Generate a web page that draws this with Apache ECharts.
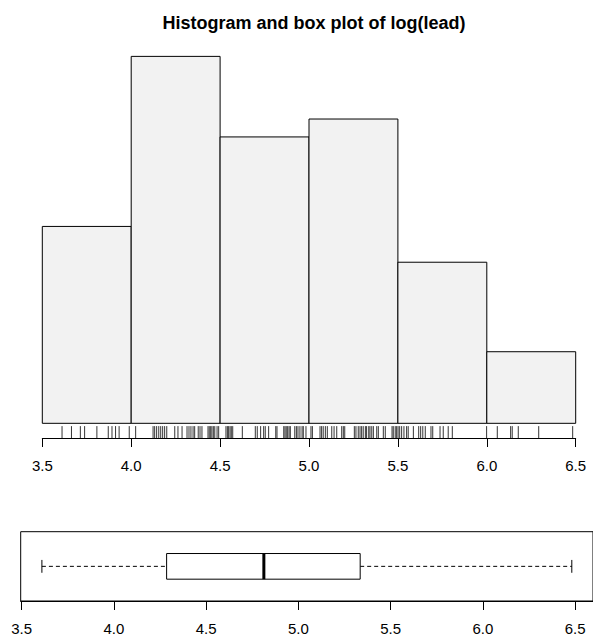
<!DOCTYPE html>
<html>
<head>
<meta charset="utf-8">
<script src="https://cdn.jsdelivr.net/npm/echarts@6/dist/echarts.min.js"></script>
<style>
html,body{margin:0;padding:0;background:#fff;}
#chart{width:593px;height:639px;}
</style>
</head>
<body>
<div id="chart"></div>
<script>
// ---- data ----
const titleText = 'Histogram and box plot of log(lead)';
const binEdges = [3.5, 4.0, 4.5, 5.0, 5.5, 6.0, 6.5];
const binCounts = [22, 41, 32, 34, 18, 8];
const tickValues = [3.5, 4.0, 4.5, 5.0, 5.5, 6.0, 6.5];
const rugValues = [
  3.611, 3.664, 3.714, 3.738, 3.807, 3.871, 3.892, 3.912, 3.932, 3.989, 4.025,
  4.123, 4.132, 4.143, 4.155, 4.166, 4.177, 4.188, 4.200, 4.245, 4.263, 4.286,
  4.314, 4.325, 4.336, 4.348, 4.357, 4.377, 4.387, 4.398, 4.432, 4.439, 4.447,
  4.454, 4.462, 4.470, 4.483, 4.492,
  4.533, 4.541, 4.548, 4.556, 4.563, 4.571, 4.625, 4.698, 4.709, 4.728, 4.745,
  4.754, 4.773, 4.813, 4.820, 4.858, 4.865, 4.872, 4.880, 4.888, 4.895, 4.920,
  4.929, 4.938, 4.949, 4.961, 4.968, 4.983,
  5.011, 5.019, 5.062, 5.071, 5.080, 5.092, 5.103, 5.128, 5.141, 5.156, 5.184,
  5.193, 5.201, 5.255, 5.264, 5.277, 5.287, 5.296, 5.305, 5.317, 5.324, 5.336,
  5.343, 5.353, 5.362, 5.381, 5.390, 5.418, 5.429, 5.467, 5.474, 5.485, 5.493,
  5.501, 5.510, 5.521, 5.534, 5.549, 5.558, 5.587, 5.617, 5.628, 5.640, 5.654,
  5.686, 5.696, 5.737, 5.755, 5.783, 5.806,
  5.999, 6.059, 6.134, 6.143, 6.177, 6.292, 6.483
];
// [lower whisker, Q1, median, Q3, upper whisker]
const boxStats = [3.61, 4.286, 4.813, 5.335, 6.482];

// ---- derived axis ranges (R style 4% expansion) ----
const maxCount = Math.max(...binCounts);
const yMin = -0.04 * maxCount, yMax = 1.04 * maxCount;
const bxSpan = boxStats[4] - boxStats[0];
const bxMin = boxStats[0] - 0.04 * bxSpan, bxMax = boxStats[4] + 0.04 * bxSpan;

const histData = binCounts.map((c, i) => [binEdges[i], binEdges[i + 1], c]);

const chart = echarts.init(document.getElementById('chart'), null, {renderer: 'svg'});
const font = 'Liberation Sans, Arial, Helvetica, sans-serif';
const fmt = v => Number(v).toFixed(1);

const option = {
  backgroundColor: '#fff',
  animation: false,
  title: {
    text: titleText,
    left: 309,
    textAlign: 'center',
    top: 9,
    textStyle: {fontFamily: font, fontSize: 18, fontWeight: 'bold', color: '#000'}
  },
  grid: [
    {left: 42.3, right: 17.3, top: 41.7, height: 396.3, containLabel: false},
    {left: 20.7, width: 576.2, top: 531.7, height: 69.3, show: true,
     borderColor: '#000', borderWidth: 1, backgroundColor: 'transparent', containLabel: false}
  ],
  xAxis: [
    {gridIndex: 0, type: 'value', min: 3.5, max: 6.5, interval: 0.5,
     axisLine: {show: true, onZero: false, lineStyle: {color: '#000', width: 1}},
     axisTick: {show: true, length: 9, lineStyle: {color: '#000', width: 1}},
     axisLabel: {show: true, margin: 20, fontSize: 15, fontFamily: font, color: '#000', formatter: fmt},
     splitLine: {show: false}},
    {gridIndex: 1, type: 'value', min: bxMin, max: bxMax,
     axisLine: {show: true, onZero: false, lineStyle: {color: '#000', width: 1}},
     axisTick: {show: true, length: 9, customValues: tickValues, lineStyle: {color: '#000', width: 1}},
     axisLabel: {show: true, margin: 20, fontSize: 15, fontFamily: font, color: '#000',
                 customValues: tickValues, formatter: fmt},
     splitLine: {show: false}}
  ],
  yAxis: [
    {gridIndex: 0, type: 'value', min: yMin, max: yMax, show: false},
    {gridIndex: 1, type: 'value', min: 0.46, max: 1.54, show: false}
  ],
  series: [
    {
      type: 'custom', xAxisIndex: 0, yAxisIndex: 0, clip: false,
      data: histData,
      renderItem: function (params, api) {
        const p1 = api.coord([api.value(0), api.value(2)]);
        const p2 = api.coord([api.value(1), 0]);
        return {
          type: 'rect',
          shape: {x: p1[0], y: p1[1], width: p2[0] - p1[0], height: p2[1] - p1[1]},
          style: {fill: '#f2f2f2', stroke: '#000', lineWidth: 1}
        };
      }
    },
    {
      type: 'custom', xAxisIndex: 0, yAxisIndex: 0, clip: false,
      data: rugValues.map(v => [v]),
      renderItem: function (params, api) {
        const v = api.value(0);
        const a = api.coord([v, yMin]);
        const b = api.coord([v, yMin + 0.03 * (yMax - yMin)]);
        return {
          type: 'line',
          shape: {x1: a[0], y1: a[1], x2: b[0], y2: b[1]},
          style: {stroke: '#000', lineWidth: 0.8}
        };
      }
    },
    {
      type: 'custom', xAxisIndex: 1, yAxisIndex: 1, clip: false,
      data: [boxStats],
      renderItem: function (params, api) {
        const lo = api.value(0), q1 = api.value(1), md = api.value(2), q3 = api.value(3), hi = api.value(4);
        const c = 1, hw = 0.2, cw = 0.1;
        const P = (x, y) => api.coord([x, y]);
        const bTL = P(q1, c + hw), bBR = P(q3, c - hw);
        const m1 = P(md, c + hw), m2 = P(md, c - hw);
        const wl1 = P(lo, c), wl2 = P(q1, c), wh1 = P(q3, c), wh2 = P(hi, c);
        const cl1 = P(lo, c + cw), cl2 = P(lo, c - cw), ch1 = P(hi, c + cw), ch2 = P(hi, c - cw);
        const solid = {stroke: '#000', lineWidth: 1, fill: null};
        const dashed = {stroke: '#000', lineWidth: 1, lineDash: [4, 3]};
        return {
          type: 'group',
          children: [
            {type: 'line', shape: {x1: wl1[0], y1: wl1[1], x2: wl2[0], y2: wl2[1]}, style: dashed},
            {type: 'line', shape: {x1: wh1[0], y1: wh1[1], x2: wh2[0], y2: wh2[1]}, style: dashed},
            {type: 'line', shape: {x1: cl1[0], y1: cl1[1], x2: cl2[0], y2: cl2[1]}, style: solid},
            {type: 'line', shape: {x1: ch1[0], y1: ch1[1], x2: ch2[0], y2: ch2[1]}, style: solid},
            {type: 'rect', shape: {x: bTL[0], y: bTL[1], width: bBR[0] - bTL[0], height: bBR[1] - bTL[1]},
             style: {stroke: '#000', lineWidth: 1, fill: '#fff'}},
            {type: 'line', shape: {x1: m1[0], y1: m1[1], x2: m2[0], y2: m2[1]}, style: {stroke: '#000', lineWidth: 3}}
          ]
        };
      }
    }
  ]
};
chart.setOption(option);
</script>
</body>
</html>
